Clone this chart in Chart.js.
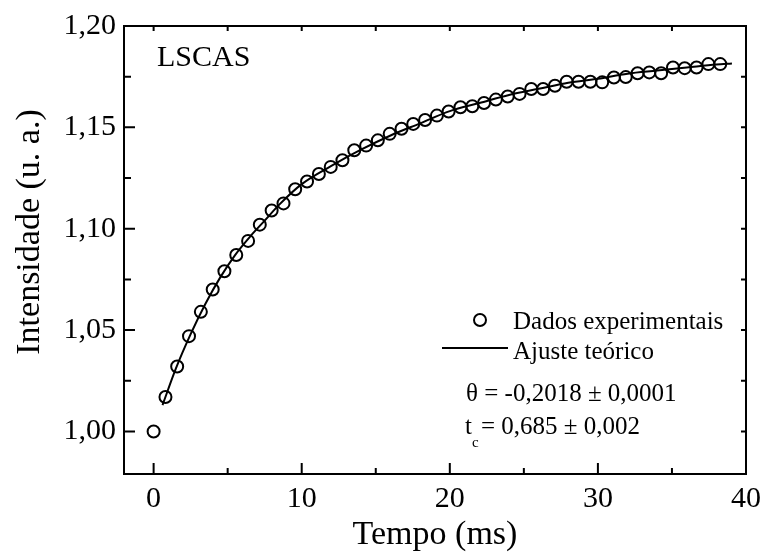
<!DOCTYPE html>
<html>
<head>
<meta charset="utf-8">
<script src="https://cdn.jsdelivr.net/npm/chart.js@4"></script>
<style>
  body { margin: 0; background: #fff; }
</style>
</head>
<body>
<canvas id="myChart" width="768" height="556"></canvas>
<script>
const tempo = [0, 0.80, 1.59, 2.39, 3.19, 3.99, 4.78, 5.58, 6.38, 7.17, 7.97, 8.77, 9.56,
  10.36, 11.16, 11.96, 12.75, 13.55, 14.35, 15.14, 15.94, 16.74, 17.53, 18.33, 19.13,
  19.92, 20.72, 21.52, 22.31, 23.11, 23.91, 24.71, 25.50, 26.30, 27.10, 27.89, 28.69,
  29.49, 30.29, 31.08, 31.88, 32.68, 33.47, 34.27, 35.07, 35.86, 36.66, 37.46, 38.26];
const intensidade = [1.000, 1.017, 1.032, 1.047, 1.059, 1.070, 1.079, 1.087, 1.094, 1.102,
  1.109, 1.1125, 1.1195, 1.1233, 1.127, 1.1305, 1.1338, 1.1387, 1.141, 1.1436, 1.1468,
  1.1493, 1.1517, 1.1536, 1.1558, 1.1578, 1.1599, 1.1604, 1.162, 1.1637, 1.1652, 1.1665,
  1.1689, 1.1689, 1.1705, 1.1725, 1.1725, 1.1725, 1.1722, 1.1746, 1.1748, 1.1767, 1.1771,
  1.1767, 1.1795, 1.1792, 1.1795, 1.1812, 1.1812];

const ajusteTempo = [0.6, 1.5, 2.5, 3.5, 4.5, 5.5, 6.5, 7.5, 8.5, 10, 12, 14, 16, 18, 20,
  22, 24, 26, 28, 30, 32, 34, 36, 38, 39.05];
const ajusteValor = [1.013, 1.031, 1.048, 1.063, 1.076, 1.087, 1.096, 1.104, 1.112, 1.122,
  1.131, 1.139, 1.146, 1.152, 1.158, 1.162, 1.166, 1.169, 1.172, 1.174, 1.1765, 1.178,
  1.1795, 1.181, 1.1815];

const xTicks = [0, 10, 20, 30, 40];
const yTicks = [1.00, 1.05, 1.10, 1.15, 1.20];
const xMinor = [5, 15, 25, 35];
const yMinor = [1.025, 1.075, 1.125, 1.175];

const serif = '"Liberation Serif", "Times New Roman", serif';

// inward ticks, frame and texts
const frame = {
  id: 'frame',
  afterDraw(chart) {
    const ctx = chart.ctx;
    const a = chart.chartArea;
    const sx = chart.scales.x, sy = chart.scales.y;
    ctx.save();
    ctx.strokeStyle = '#000';
    ctx.lineWidth = 2;
    ctx.strokeRect(a.left, a.top, a.right - a.left, a.bottom - a.top);
    ctx.beginPath();
    const tick = (vals, len, lenOpp) => {
      vals.forEach(v => {
        const px = sx.getPixelForValue(v);
        ctx.moveTo(px, a.bottom); ctx.lineTo(px, a.bottom - len);
        ctx.moveTo(px, a.top); ctx.lineTo(px, a.top + lenOpp);
      });
    };
    const tickY = (vals, len, lenOpp) => {
      vals.forEach(v => {
        const py = sy.getPixelForValue(v);
        ctx.moveTo(a.left, py); ctx.lineTo(a.left + len, py);
        ctx.moveTo(a.right, py); ctx.lineTo(a.right - lenOpp, py);
      });
    };
    tick(xTicks, 11, 5);
    tick(xMinor, 6, 5);
    tickY(yTicks, 11, 5);
    tickY(yMinor, 7, 5);
    ctx.stroke();

    ctx.fillStyle = '#000';
    ctx.textBaseline = 'middle';
    ctx.textAlign = 'center';
    ctx.font = '34px ' + serif;
    ctx.fillText('Tempo (ms)', (a.left + a.right) / 2, 535);
    ctx.save();
    ctx.translate(30, 232);
    ctx.rotate(-Math.PI / 2);
    ctx.fillText('Intensidade (u. a.)', 0, 0);
    ctx.restore();

    ctx.textAlign = 'left';
    ctx.font = '30px ' + serif;
    ctx.fillText('LSCAS', 157, 58);

    ctx.font = '25px ' + serif;
    ctx.beginPath();
    ctx.arc(480, 320, 6, 0, Math.PI * 2);
    ctx.stroke();
    ctx.fillText('Dados experimentais', 513, 322);
    ctx.beginPath();
    ctx.moveTo(442, 348); ctx.lineTo(508, 348);
    ctx.stroke();
    ctx.fillText('Ajuste teórico', 513, 352);
    ctx.fillText('θ = -0,2018 ± 0,0001', 466, 394);
    ctx.fillText('t', 465, 427);
    ctx.fillText('= 0,685 ± 0,002', 481, 427);
    ctx.font = '15px ' + serif;
    ctx.fillText('c', 472, 443);
    ctx.restore();
  }
};

const data = {
  datasets: [{
    label: 'Dados experimentais',
    data: tempo.map((t, i) => ({ x: t, y: intensidade[i] })),
    showLine: false,
    pointStyle: 'circle',
    pointRadius: 6,
    pointBorderWidth: 2,
    pointBorderColor: '#000',
    pointBackgroundColor: 'rgba(0,0,0,0)'
  }, {
    label: 'Ajuste teórico',
    data: ajusteTempo.map((t, i) => ({ x: t, y: ajusteValor[i] })),
    showLine: true,
    pointRadius: 0,
    borderColor: '#000',
    borderWidth: 2,
    cubicInterpolationMode: 'monotone'
  }]
};

const config = {
  type: 'scatter',
  data: data,
  options: {
    responsive: false,
    animation: false,
    layout: { padding: { top: 23, right: 17, left: 0, bottom: 0 } },
    plugins: { legend: { display: false }, tooltip: { enabled: false } },
    scales: {
      x: {
        type: 'linear', min: -2, max: 40,
        grid: { display: false, drawTicks: false },
        border: { display: false },
        afterBuildTicks: s => { s.ticks = xTicks.map(v => ({ value: v })); },
        afterFit: s => { s.height = 82; },
        ticks: {
          color: '#000', padding: 7,
          font: { family: serif, size: 30 },
          maxRotation: 0,
          callback: v => String(v)
        }
      },
      y: {
        type: 'linear', min: 0.979, max: 1.20,
        grid: { display: false, drawTicks: false },
        border: { display: false },
        afterBuildTicks: s => { s.ticks = yTicks.map(v => ({ value: v })); },
        afterFit: s => { s.width = 124; },
        ticks: {
          color: '#000', padding: 8,
          font: { family: serif, size: 30 },
          callback: v => v.toFixed(2).replace('.', ',')
        }
      }
    }
  },
  plugins: [frame]
};

const myChart = new Chart(document.getElementById('myChart'), config);
</script>
</body>
</html>
